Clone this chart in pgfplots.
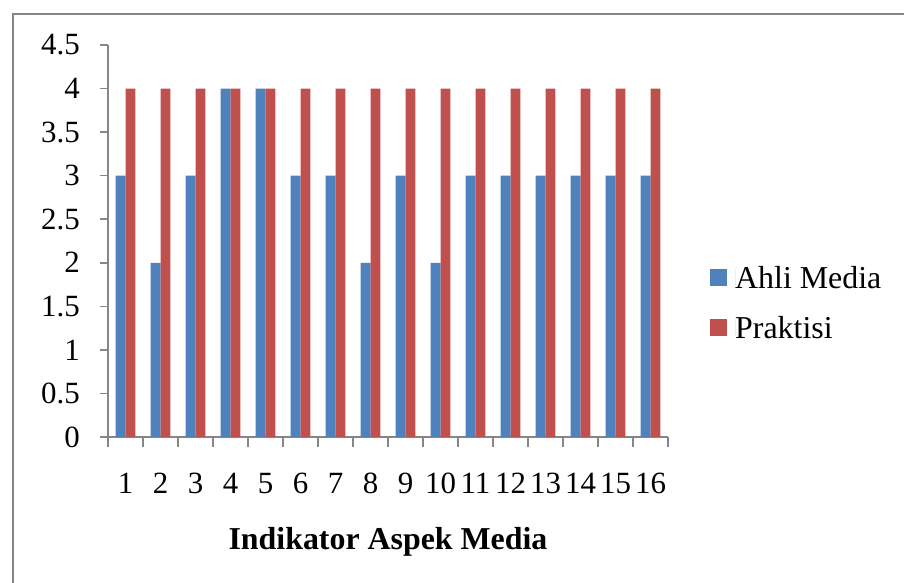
\documentclass[border=0pt]{standalone}
\usepackage{fontspec}
\setmainfont{Liberation Serif}
\usepackage{pgfplots}
\pgfplotsset{compat=1.18}
\definecolor{ahli}{HTML}{4F81BD}
\definecolor{prak}{HTML}{C0504D}
\definecolor{axgray}{HTML}{868686}

\begin{document}
\begin{tikzpicture}[x=1bp,y=1bp]
\useasboundingbox (0,0) rectangle (904,583);
% chart frame
\draw[axgray, line width=2bp] (13,0) -- (13,569) -- (904,569);
\begin{axis}[
  at={(108bp,146bp)}, anchor=south west,
  scale only axis, width=560bp, height=392bp,
  xmin=0.5, xmax=16.5, ymin=0, ymax=4.5,
  ybar=0pt, bar width=9.8bp,
  axis lines*=left,
  axis line style={axgray, line width=1.5bp},
  every tick/.style={axgray, line width=1.5bp},
  tick align=outside,
  xtick={1,...,16},
  major x tick style={draw=none},
  minor xtick={0.5,1.5,...,16.5},
  minor tick length=10bp,
  ytick={0,0.5,...,4.5},
  major tick length=8bp,
  /pgf/number format/assume math mode=true,
  ticklabel style={font=\fontsize{31}{37}\selectfont, inner sep=0pt},
  xticklabel style={anchor=base, yshift=-49bp},
  yticklabel style={anchor=east, xshift=-20bp},
  yticklabel={\pgfmathprintnumber[fixed,precision=1]{\tick}},
  xlabel={Indikator Aspek Media},
  xlabel style={at={(axis description cs:0.5,0)}, anchor=base, yshift=-113bp,
    font=\bfseries\fontsize{32}{38}\selectfont, inner sep=0pt},
  every axis plot post/.append style={draw=none},
  legend image code/.code={\fill[#1] (0bp,3bp) rectangle (17bp,20bp);
    \path (25bp,3bp) -- (25bp,20bp);},
  legend style={at={(axis description cs:1.0750,0.3406)}, anchor=west,
    draw=none, fill=none, inner sep=0pt, row sep=26bp,
    font=\fontsize{32}{38}\selectfont,
    nodes={inner sep=0pt, anchor=base west}},
  legend cell align=left,
]
\addplot[fill=ahli] coordinates {(1,3) (2,2) (3,3) (4,4) (5,4) (6,3) (7,3) (8,2)
  (9,3) (10,2) (11,3) (12,3) (13,3) (14,3) (15,3) (16,3)};
\addplot[fill=prak] coordinates {(1,4) (2,4) (3,4) (4,4) (5,4) (6,4) (7,4) (8,4)
  (9,4) (10,4) (11,4) (12,4) (13,4) (14,4) (15,4) (16,4)};
\legend{Ahli Media, Praktisi}
\end{axis}
\end{tikzpicture}
\end{document}
